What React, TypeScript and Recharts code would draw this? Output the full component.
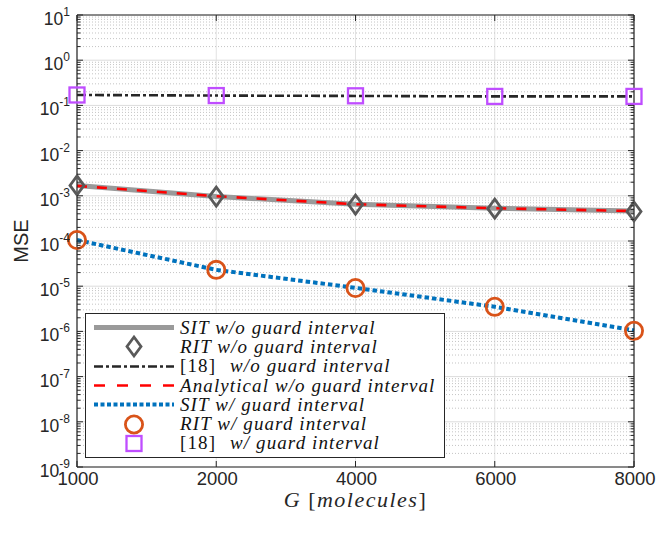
import React from 'react';
import { LineChart, Line, XAxis, YAxis, CartesianGrid, ReferenceLine, Legend } from 'recharts';

// G values on the x axis (evenly spaced categories)
const molecules = ['1000', '2000', '4000', '6000', '8000'];

// MSE values
const sitWithoutGuard = [1.7e-3, 9.7e-4, 6.5e-4, 5.3e-4, 4.6e-4];
const ritWithoutGuard = [1.7e-3, 9.6e-4, 6.4e-4, 5.2e-4, 4.5e-4];
const ref18WithoutGuard = [0.17, 0.165, 0.162, 0.158, 0.158];
const analyticalWithoutGuard = [1.66e-3, 9.8e-4, 6.5e-4, 5.3e-4, 4.6e-4];
const sitWithGuard = [1.05e-4, 2.3e-5, 9.2e-6, 3.5e-6, 1.05e-6];
const ritWithGuard = [1.05e-4, 2.3e-5, 9.1e-6, 3.5e-6, 1.03e-6];
const ref18WithGuard = [0.17, 0.165, 0.163, 0.158, 0.158];

const decadeTicks = [1e-9, 1e-8, 1e-7, 1e-6, 1e-5, 1e-4, 1e-3, 1e-2, 1e-1, 1, 10];
const minorSteps = [2, 3, 4, 5, 6, 7, 8, 9];
const minorTicks = decadeTicks
  .slice(0, -1)
  .flatMap((d) => minorSteps.map((m) => Number((d * m).toPrecision(3))));
const allTicks = [...decadeTicks, ...minorTicks].sort((a, b) => a - b);

const data = molecules.map((g, i) => ({
  G: g,
  sitWo: sitWithoutGuard[i],
  ritWo: ritWithoutGuard[i],
  ref18Wo: ref18WithoutGuard[i],
  anaWo: analyticalWithoutGuard[i],
  sitW: sitWithGuard[i],
  ritW: ritWithGuard[i],
  ref18W: ref18WithGuard[i],
}));

const AXIS = '#262626';
const SANS = '"Liberation Sans", Arial, Helvetica, sans-serif';
const SERIF = '"Liberation Serif", "Times New Roman", serif';

const C = {
  sit: '#9a9a9a',
  rit: '#595959',
  ref: '#262626',
  ana: '#ff0000',
  sitW: '#0072bd',
  ritW: '#d95319',
  refW: '#bf4dff',
};

const isDecade = (v: number) => {
  const l = Math.log10(v);
  return Math.abs(l - Math.round(l)) < 1e-6;
};

const LeftTick = (props: any) => {
  const { x, y, payload } = props;
  const v = payload.value;
  const major = isDecade(v);
  return (
    <g>
      <line x1={x} y1={y} x2={x + (major ? 6 : 3.5)} y2={y} stroke={AXIS} strokeWidth={1} />
      {major && (
        <text x={x - 7} y={y} dy={10} textAnchor="end" fontSize={17.5} fill={AXIS} fontFamily={SANS}>
          10
          <tspan dy={-9} fontSize={12}>
            {Math.round(Math.log10(v))}
          </tspan>
        </text>
      )}
    </g>
  );
};

const RightTick = (props: any) => {
  const { x, y, payload } = props;
  const major = isDecade(payload.value);
  return <line x1={x} y1={y} x2={x - (major ? 6 : 3.5)} y2={y} stroke={AXIS} strokeWidth={1} />;
};

const BottomTick = (props: any) => {
  const { x, y, payload } = props;
  return (
    <g>
      <line x1={x} y1={y} x2={x} y2={y - 6} stroke={AXIS} />
      <text x={x + 1} y={y} dy={18} textAnchor="middle" fontSize={18.5} fill={AXIS} fontFamily={SANS}>
        {payload.value}
      </text>
    </g>
  );
};

const TopTick = (props: any) => {
  const { x, y } = props;
  return <line x1={x} y1={y} x2={x} y2={y + 6} stroke={AXIS} />;
};

const Diamond = ({ cx, cy, color }: any) => (
  <path
    d={`M${cx},${cy - 9.5} L${cx + 7},${cy} L${cx},${cy + 9.5} L${cx - 7},${cy} Z`}
    fill="none"
    stroke={color}
    strokeWidth={2.8}
  />
);
const Circle = ({ cx, cy, color }: any) => (
  <circle cx={cx} cy={cy} r={8.6} fill="none" stroke={color} strokeWidth={2.8} />
);
const Square = ({ cx, cy, color }: any) => (
  <rect x={cx - 7.5} y={cy - 7.5} width={15} height={15} fill="none" stroke={color} strokeWidth={2.3} />
);

type Row = { sample: (w: number, h: number) => React.ReactNode; plain?: string; italic: string };

const legendRows: Row[] = [
  {
    sample: (w, h) => <line x1={0} x2={w} y1={h / 2} y2={h / 2} stroke={C.sit} strokeWidth={5} />,
    italic: 'SIT w/o guard interval',
  },
  { sample: (w, h) => <Diamond cx={w / 2} cy={h / 2} color={C.rit} />, italic: 'RIT w/o guard interval' },
  {
    sample: (w, h) => (
      <line x1={0} x2={w} y1={h / 2} y2={h / 2} stroke={C.ref} strokeWidth={2.6} strokeDasharray="9 3 3 3" />
    ),
    plain: '[18]',
    italic: 'w/o guard interval',
  },
  {
    sample: (w, h) => (
      <line x1={0} x2={w} y1={h / 2} y2={h / 2} stroke={C.ana} strokeWidth={2.6} strokeDasharray="11 12" />
    ),
    italic: 'Analytical w/o guard interval',
  },
  {
    sample: (w, h) => (
      <line x1={0} x2={w} y1={h / 2} y2={h / 2} stroke={C.sitW} strokeWidth={4} strokeDasharray="4 2.5" />
    ),
    italic: 'SIT w/ guard interval',
  },
  { sample: (w, h) => <Circle cx={w / 2} cy={h / 2} color={C.ritW} />, italic: 'RIT w/ guard interval' },
  {
    sample: (w, h) => <Square cx={w / 2} cy={h / 2} color={C.refW} />,
    plain: '[18]',
    italic: 'w/ guard interval',
  },
];

const LegendBox = () => (
  <div
    style={{
      width: 360,
      height: 145,
      boxSizing: 'border-box',
      border: `1.3px solid ${AXIS}`,
      background: '#fff',
      padding: '4px 0 0 8px',
    }}
  >
    {legendRows.map((r, i) => (
      <div key={i} style={{ display: 'flex', alignItems: 'center', height: 19.3 }}>
        <svg width={80} height={19} style={{ flex: 'none', overflow: 'visible' }}>
          {r.sample(80, 19)}
        </svg>
        <span
          style={{
            marginLeft: 6,
            fontFamily: SERIF,
            fontSize: 19,
            color: '#111',
            whiteSpace: 'nowrap',
            letterSpacing: 1.1,
          }}
        >
          {r.plain && <span style={{ marginRight: 14 }}>{r.plain}</span>}
          <i>{r.italic}</i>
        </span>
      </div>
    ))}
  </div>
);

const XLabel = (props: any) => {
  const { viewBox } = props;
  const cx = viewBox.x + viewBox.width / 2;
  return (
    <text
      x={cx}
      y={viewBox.y + 40}
      textAnchor="middle"
      fontSize={22}
      letterSpacing={1.5}
      fill="#262626"
      fontFamily={SERIF}
    >
      <tspan fontStyle="italic">G</tspan>
      <tspan> [</tspan>
      <tspan fontStyle="italic">molecules</tspan>
      <tspan>]</tspan>
    </text>
  );
};

const YLabel = (props: any) => {
  const { viewBox } = props;
  const cy = viewBox.y + viewBox.height / 2;
  return (
    <text
      x={21}
      y={cy}
      transform={`rotate(-90 21 ${cy})`}
      textAnchor="middle"
      dominantBaseline="central"
      fontSize={20}
      fill="#262626"
      fontFamily={SANS}
    >
      MSE
    </text>
  );
};

export default function App() {
  return (
    <div style={{ position: 'absolute', left: 0, top: 0, width: 661, height: 541, background: '#fff' }}>
      <LineChart width={661} height={541} data={data} margin={{ top: 0, right: 0, bottom: 0, left: 0 }}>
        <CartesianGrid xAxisId="b" yAxisId="left" horizontal={false} stroke="#e2e2e2" strokeWidth={1} />
        {minorTicks.map((v) => (
          <ReferenceLine
            key={`m${v}`}
            y={v}
            xAxisId="b"
            yAxisId="left"
            stroke="#c4c4c4"
            strokeWidth={1}
            strokeDasharray="1 2"
          />
        ))}
        {decadeTicks.map((v) => (
          <ReferenceLine key={`d${v}`} y={v} xAxisId="b" yAxisId="left" stroke="#dcdcdc" strokeWidth={1} />
        ))}
        <XAxis
          xAxisId="b"
          dataKey="G"
          height={74}
          interval={0}
          tickSize={0}
          tickMargin={0}
          tick={BottomTick}
          axisLine={{ stroke: AXIS, strokeWidth: 1.2 }}
          tickLine={false}
          label={XLabel}
        />
        <XAxis
          xAxisId="t"
          dataKey="G"
          orientation="top"
          height={15}
          interval={0}
          tickSize={0}
          tickMargin={0}
          tick={TopTick}
          axisLine={{ stroke: AXIS, strokeWidth: 1.2 }}
          tickLine={false}
        />
        <YAxis
          yAxisId="left"
          type="number"
          scale="log"
          domain={[1e-9, 10]}
          allowDataOverflow
          ticks={allTicks}
          interval={0}
          width={77}
          tickSize={0}
          tickMargin={0}
          tick={LeftTick}
          tickLine={false}
          axisLine={{ stroke: AXIS, strokeWidth: 1.2 }}
          label={YLabel}
        />
        <YAxis
          yAxisId="right"
          orientation="right"
          type="number"
          scale="log"
          domain={[1e-9, 10]}
          allowDataOverflow
          ticks={allTicks}
          interval={0}
          width={27}
          tickSize={0}
          tickMargin={0}
          tick={RightTick}
          tickLine={false}
          axisLine={{ stroke: AXIS, strokeWidth: 1.2 }}
        />
        <Line
          xAxisId="b"
          yAxisId="left"
          dataKey="sitWo"
          stroke={C.sit}
          strokeWidth={5}
          dot={false}
          isAnimationActive={false}
        />
        <Line
          xAxisId="b"
          yAxisId="left"
          dataKey="ritWo"
          stroke="none"
          dot={(p: any) => <Diamond key={p.key ?? p.index} cx={p.cx} cy={p.cy} color={C.rit} />}
          isAnimationActive={false}
        />
        <Line
          xAxisId="b"
          yAxisId="left"
          dataKey="ref18Wo"
          stroke={C.ref}
          strokeWidth={2.6}
          strokeDasharray="9 3 3 3"
          dot={false}
          isAnimationActive={false}
        />
        <Line
          xAxisId="b"
          yAxisId="left"
          dataKey="anaWo"
          stroke={C.ana}
          strokeWidth={2.6}
          strokeDasharray="10 10"
          dot={false}
          isAnimationActive={false}
        />
        <Line
          xAxisId="b"
          yAxisId="left"
          dataKey="sitW"
          stroke={C.sitW}
          strokeWidth={4}
          strokeDasharray="4.5 3"
          dot={false}
          isAnimationActive={false}
        />
        <Line
          xAxisId="b"
          yAxisId="left"
          dataKey="ritW"
          stroke="none"
          dot={(p: any) => <Circle key={p.key ?? p.index} cx={p.cx} cy={p.cy} color={C.ritW} />}
          isAnimationActive={false}
        />
        <Line
          xAxisId="b"
          yAxisId="left"
          dataKey="ref18W"
          stroke="none"
          dot={(p: any) => <Square key={p.key ?? p.index} cx={p.cx} cy={p.cy} color={C.refW} />}
          isAnimationActive={false}
        />
        <Legend
          layout="vertical"
          align="center"
          verticalAlign="middle"
          wrapperStyle={{ left: 85, top: 313, width: 360, height: 145 }}
          content={() => <LegendBox />}
        />
      </LineChart>
    </div>
  );
}
